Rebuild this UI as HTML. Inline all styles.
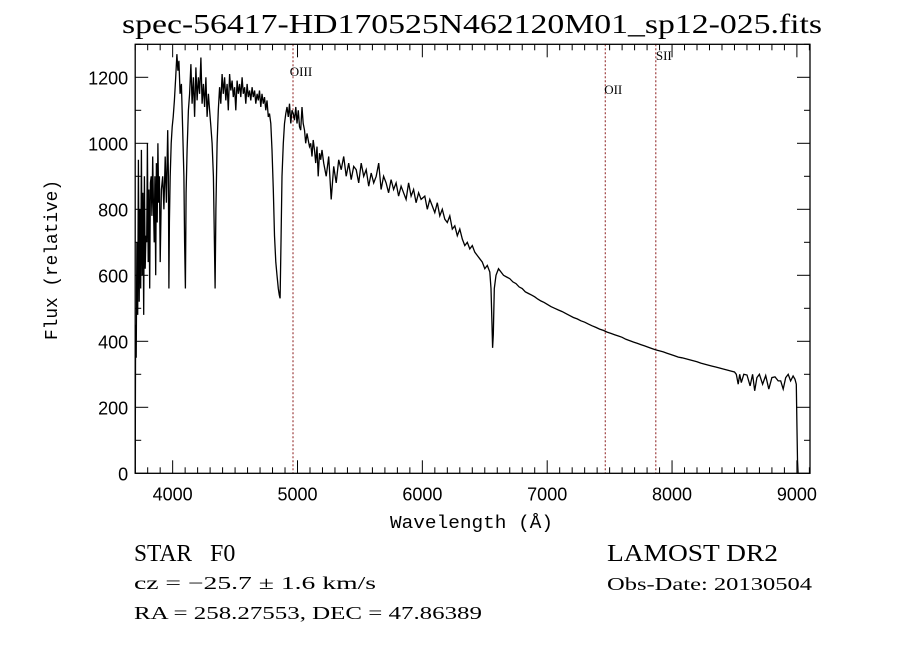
<!DOCTYPE html>
<html><head><meta charset="utf-8"><style>
body{margin:0;background:#fff;}
svg text{fill:#000;}
</style></head><body>
<svg id="chart" width="900" height="649" viewBox="0 0 900 649" xmlns="http://www.w3.org/2000/svg" style="display:block;background:#fff">
<text x="122" y="33" textLength="700" lengthAdjust="spacingAndGlyphs" font-family="Liberation Serif, serif" font-size="27">spec-56417-HD170525N462120M01_sp12-025.fits</text>
<g id="axes"></g>
<g id="lines"></g>
<path id="spec" fill="none" stroke="#000" stroke-width="1.3"/>
<rect x="135.2" y="44.3" width="674.8" height="429" fill="none" stroke="#000" stroke-width="1.3"/>
<text x="390" y="528" textLength="163" lengthAdjust="spacingAndGlyphs" font-family="Liberation Mono, monospace" font-size="18">Wavelength (Å)</text>
<text transform="translate(57,340) rotate(-90)" textLength="160" lengthAdjust="spacingAndGlyphs" font-family="Liberation Mono, monospace" font-size="18">Flux (relative)</text>
<text x="134" y="561" textLength="58" lengthAdjust="spacingAndGlyphs" font-family="Liberation Serif, serif" font-size="24">STAR</text>
<text x="210" y="561" font-family="Liberation Serif, serif" font-size="24">F0</text>
<text x="134" y="589" textLength="242" lengthAdjust="spacingAndGlyphs" font-family="Liberation Serif, serif" font-size="18">cz = −25.7 ± 1.6 km/s</text>
<text x="134" y="619" textLength="348" lengthAdjust="spacingAndGlyphs" font-family="Liberation Serif, serif" font-size="18">RA = 258.27553, DEC =  47.86389</text>
<text x="607" y="561" textLength="171" lengthAdjust="spacingAndGlyphs" font-family="Liberation Serif, serif" font-size="24">LAMOST DR2</text>
<text x="607" y="590" textLength="205" lengthAdjust="spacingAndGlyphs" font-family="Liberation Serif, serif" font-size="18">Obs-Date: 20130504</text>
</svg>
<script>
const wave=[
3700,3703,3708,3714,3720,3726,3732,3738,3744,3750,
3756,3762,3768,3774,3780,3786,3792,3798,3804,3810,
3816,3822,3828,3834,3840,3846,3852,3858,3864,3870,
3876,3882,3888,3894,3900,3910,3920,3930,3940,3950,
3960,3966,3970,3974,3980,3988,3996,4004,4014,4024,
4034,4042,4050,4060,4070,4080,4090,4096,4102,4108,
4116,4126,4136,4146,4156,4166,4176,4186,4196,4206,
4216,4226,4236,4246,4256,4266,4276,4286,4296,4306,
4316,4326,4334,4340,4346,
4356,4366,4376,4386,4396,4406,4416,4426,4436,4446,
4456,4466,4476,4486,4496,4506,4516,4526,4536,4546,
4556,4566,4576,4586,4596,4606,4616,4626,4636,4646,
4656,4666,4676,4686,4696,4706,4716,4726,4736,4746,
4756,4766,4776,4786,4796,4806,4816,4826,4836,4846,
4854,4861,4868,
4876,4886,4896,4906,4916,4926,4936,4946,4956,4966,
4976,4986,4996,5006,5016,5026,5036,5046,5056,5066,
5076,5086,5096,5106,5116,5126,5136,5146,5156,5166,
5176,5186,5196,
5210,5230,5250,5270,5290,5310,5330,5350,5370,5390,
5410,5430,5450,5470,5490,5510,5530,5550,5570,5590,
5610,5630,5650,5670,5690,5710,5730,5750,5770,5790,
5810,5830,5850,5870,5890,5910,5930,5950,5970,5990,
6020,6040,6060,6080,6100,6120,6140,6160,6180,6200,
6220,6240,6260,6280,6300,6320,6340,6360,6380,6400,
6420,6440,6460,6480,6500,
6520,6540,6550,6558,6563,6568,6576,6590,6610,6630,
6650,6675,6700,6725,6750,6775,6800,6825,6850,6875,
6900,6925,6950,6975,7000,
7030,7060,7090,7120,7150,7180,7210,7240,7270,7300,
7330,7360,7390,7420,7450,7480,7510,7540,7570,7600,
7630,7660,7690,7720,7750,7780,7810,7840,7870,7900,
7930,7960,7990,8020,8050,8080,8110,8140,8170,8200,
8230,8260,8290,8320,8350,8380,8410,8440,8470,8500,
8515,8530,8542,8555,8575,8600,8625,8645,8662,8680,
8700,8725,8750,8775,8800,8825,8850,8870,8890,8910,
8930,8950,8970,8985,8995,9000,9005,9010];
const flux=[
0,450,350,700,480,950,520,800,560,980,
600,850,480,900,620,720,700,1000,640,860,
560,880,900,780,960,820,700,900,600,940,
760,1000,820,900,640,860,900,800,960,820,
1040,900,560,760,900,1000,1050,1080,1130,1200,
1270,1220,1250,1150,1180,1050,900,700,560,850,
980,1100,1150,1240,1120,1200,1080,1230,1130,1200,
1150,1260,1120,1180,1110,1200,1080,1150,1100,1050,
1000,900,700,560,800,
1000,1100,1170,1120,1210,1150,1200,1130,1180,1100,
1210,1160,1190,1140,1170,1100,1190,1150,1180,1140,
1200,1150,1170,1120,1180,1140,1160,1130,1170,1140,
1160,1120,1150,1130,1160,1110,1150,1120,1140,1100,
1130,1080,1090,1060,980,860,720,640,600,560,
540,530,700,
900,1000,1060,1090,1110,1080,1120,1060,1100,1090,
1070,1110,1060,1100,1050,1040,1110,1060,1040,1000,
1030,1010,990,1000,960,1010,980,940,990,900,
970,950,980,
940,900,960,830,930,880,950,920,960,900,
940,890,930,920,880,940,900,920,870,910,
880,900,940,860,900,880,850,890,860,880,
840,870,850,830,880,840,860,820,850,830,
840,800,830,810,790,820,780,800,770,760,
780,740,750,720,740,710,690,700,680,690,
670,660,650,640,620,
630,610,560,450,380,420,560,600,620,610,
600,595,590,580,575,565,560,550,545,540,
535,528,522,518,512,
505,500,495,490,484,478,472,468,462,458,
452,447,442,437,433,428,424,420,416,412,
406,402,398,394,390,386,382,378,374,371,
368,364,360,356,352,350,347,344,341,338,
334,331,328,325,322,319,316,313,310,307,
300,270,300,275,300,298,265,300,250,290,
300,270,296,255,290,292,280,280,255,290,
300,280,295,285,270,150,40,0];
const ticksX=[4000,5000,6000,7000,8000,9000];
const ticksY=[0,200,400,600,800,1000,1200];
const lineNames=["OIII","OII","SII"];
const lineWaves=[4964,7465,7870];
const lineLabelY=[76,94,60];
const X0=3700,X1=9105,Y0=0,Y1=1300;
const L=135.2,R=810,T=44.3,B=473.3;
const sx=v=>L+(v-X0)/(X1-X0)*(R-L);
const sy=v=>B-(v-Y0)/(Y1-Y0)*(B-T);
const NS="http://www.w3.org/2000/svg";
const ax=document.getElementById('axes');
function mk(tag,attrs,parent){const e=document.createElementNS(NS,tag);for(const k in attrs)e.setAttribute(k,attrs[k]);parent.appendChild(e);return e;}
for(let w=3700;w<=9100;w+=100){
  const major=w%1000===0, len=major?13:6, x=sx(w);
  const t1=mk('line',{x1:x,x2:x,y1:B,y2:B-len,stroke:'#000','stroke-width':1},ax);
  
  
  const t2=mk('line',{x1:x,x2:x,y1:T,y2:T+len,stroke:'#000','stroke-width':1},ax);
  
  
}
ticksX.forEach(v=>{
  const t=mk('text',{x:sx(v),y:B+27,'text-anchor':'middle','font-family':'Liberation Sans, sans-serif','font-size':'18'},ax);
  t.textContent=v;
  
  
});
for(let f=0;f<=1300;f+=100){
  const major=f%200===0,len=major?13:6,y=sy(f);
  const t1=mk('line',{x1:L,x2:L+len,y1:y,y2:y,stroke:'#000','stroke-width':1},ax);
  
  
  const t2=mk('line',{x1:R,x2:R-len,y1:y,y2:y,stroke:'#000','stroke-width':1},ax);
  
  
}
ticksY.forEach(v=>{
  const t=mk('text',{x:L-7,y:sy(v)+7,'text-anchor':'end','font-family':'Liberation Sans, sans-serif','font-size':'18'},ax);
  t.textContent=v;
  
  
});
const lg=document.getElementById('lines');
lineWaves.forEach((w,i)=>{
  const x=sx(w);
  const l=mk('line',{x1:x,x2:x,y1:T,y2:B,stroke:'#8b1a1a','stroke-width':1,'stroke-dasharray':'2,2'},lg);
  
  
  const t=mk('text',{x:x+8,y:lineLabelY[i],'text-anchor':'middle','font-family':'Liberation Serif, serif','font-size':'13'},lg);
  t.textContent=lineNames[i];
  
  
});
let d='';
const n=Math.min(wave.length,flux.length);
for(let i=0;i<n;i++){d+=(i?'L':'M')+sx(wave[i]).toFixed(1)+','+sy(flux[i]).toFixed(1);}
document.getElementById('spec').setAttribute('d',d);
</script>
</body></html>
